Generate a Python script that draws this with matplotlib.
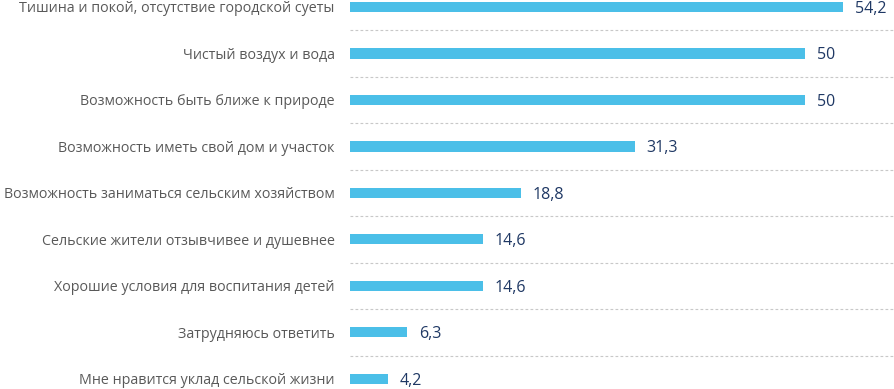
import matplotlib.pyplot as plt

categories = [
    "Тишина и покой, отсутствие городской суеты",
    "Чистый воздух и вода",
    "Возможность быть ближе к природе",
    "Возможность иметь свой дом и участок",
    "Возможность заниматься сельским хозяйством",
    "Сельские жители отзывчивее и душевнее",
    "Хорошие условия для воспитания детей",
    "Затрудняюсь ответить",
    "Мне нравится уклад сельской жизни",
]
values = [54.2, 50, 50, 31.3, 18.8, 14.6, 14.6, 6.3, 4.2]
value_labels = ["54,2", "50", "50", "31,3", "18,8", "14,6", "14,6", "6,3", "4,2"]

plt.rcParams['font.family'] = ['Open Sans', 'DejaVu Sans']

fig = plt.figure(figsize=(8.94, 3.89), dpi=100)
ax = fig.add_axes([350 / 894, 0, 1 - 350 / 894, 1])

pos = list(range(len(categories)))
ax.barh(pos, values, height=0.22, color="#4BBFE8")

for p, v, lab in zip(pos, values, value_labels):
    ax.text(v + 1.3, p, lab, va="center_baseline", ha="left", fontsize=11.5,
            color="#1F3864", clip_on=False)

# dashed separators between categories
for p in pos[:-1]:
    ax.axhline(p + 0.5, color="#C8C8C8", linestyle=(0, (2.5, 2)), linewidth=0.8)

ax.set_xlim(0, 59.8)
ax.set_ylim(8.22, -0.15)
ax.set_yticks(pos)
ax.set_yticklabels(categories, fontsize=10.3, color="#595959")
ax.tick_params(axis="y", length=0, pad=11)
ax.set_xticks([])
for s in ax.spines.values():
    s.set_visible(False)

fig.savefig("out.png", dpi=100)
